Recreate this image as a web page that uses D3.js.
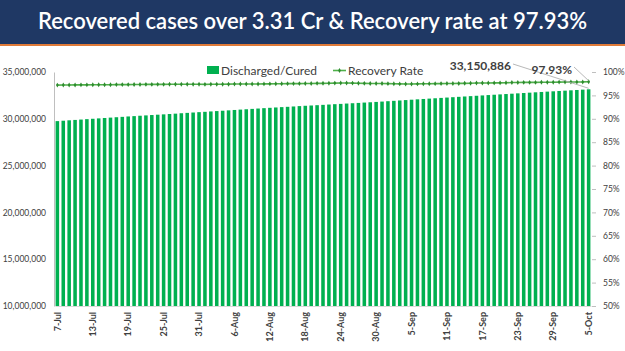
<!DOCTYPE html>
<html lang="en">
<head>
    <meta charset="UTF-8">
    <title>Recovered cases</title>
    <script src="https://d3js.org/d3.v7.min.js"></script>
    <style>
        body {margin: 0; background: #fff;}
        svg {display: block; font-family: Lato, "Open Sans", sans-serif;}
    </style>
</head>
<body>
<script>
    const width = 625;
    const height = 351;

    // discharged / cured (cumulative), 7-Jul .. 5-Oct
    const cured = [
        29752294, 29794855, 29839859, 29879373, 29920271, 29963096, 30003014, 30043899, 30087136, 30126982,
        30168536, 30207631, 30250627, 30286470, 30327700, 30363211, 30403233, 30439155, 30474540, 30512916,
        30549409, 30595033, 30632134, 30671311, 30710612,
        30746284, 30787306, 30824810, 30863185, 30903153, 30943146, 30983083, 31019112, 31058713, 31097134,
        31137104, 31173221, 31211116, 31248090, 31279765, 31317054, 31356655, 31390700, 31421961, 31455389,
        31489249, 31525042, 31562039, 31592775, 31629373, 31664127, 31697000, 31734000, 31767000, 31803000,
        31840000,
        31880412, 31920316, 31959687, 32000135, 32040364, 32080019, 32118294, 32156477, 32194233, 32232121,
        32270396, 32308552, 32346163, 32384021, 32422112, 32460228, 32497107, 32534214, 32571020, 32608105,
        32645009, 32682127, 32719003, 32756200, 32793012, 32830101, 32866047, 32902135, 32937117, 32972109,
        33007112, 33043028, 33078014, 33115098, 33150886
    ];

    // recovery rate (%)
    const rate = [
        97.20, 97.22, 97.22, 97.24, 97.25, 97.25, 97.26, 97.28, 97.28, 97.29,
        97.31, 97.31, 97.31, 97.32, 97.33, 97.35, 97.35, 97.36, 97.36, 97.37,
        97.38, 97.39, 97.39, 97.38, 97.37,
        97.36, 97.37, 97.39, 97.39, 97.40, 97.42, 97.42, 97.43, 97.45, 97.45,
        97.46, 97.47, 97.48, 97.49, 97.51, 97.52, 97.52, 97.53, 97.54, 97.57,
        97.58, 97.60, 97.63, 97.66, 97.65, 97.63, 97.60, 97.57, 97.55, 97.54,
        97.53,
        97.51, 97.48, 97.46, 97.45, 97.45, 97.46, 97.48, 97.49, 97.51, 97.52,
        97.53, 97.54, 97.56, 97.58, 97.61, 97.64, 97.65, 97.66, 97.67, 97.68,
        97.70, 97.75, 97.77, 97.78, 97.78, 97.78, 97.80, 97.81, 97.81, 97.84,
        97.85, 97.86, 97.87, 97.88, 97.93
    ];

    const dates = d3.timeDay.range(new Date(2021, 6, 7), new Date(2021, 9, 6));
    const fmtDate = d3.timeFormat("%-d-%b");

    const tickLabels = ["7-Jul", "13-Jul", "19-Jul", "25-Jul", "31-Jul", "6-Aug", "12-Aug", "18-Aug",
        "24-Aug", "30-Aug", "5-Sep", "11-Sep", "17-Sep", "23-Sep", "29-Sep", "5-Oct"];
    const leftTicks = [10000000, 15000000, 20000000, 25000000, 30000000, 35000000];
    const rightTicks = [0.5, 0.55, 0.6, 0.65, 0.7, 0.75, 0.8, 0.85, 0.9, 0.95, 1];

    const title = "Recovered cases over 3.31 Cr & Recovery rate at 97.93%";
    const curedLabel = "33,150,886";
    const rateLabel = "97.93%";

    const svg = d3.select("body").append("svg")
            .attr("width", width).attr("height", height);

    // title banner
    svg.append("rect").attr("x", 0).attr("y", 0).attr("width", width).attr("height", 44)
            .style("fill", "#1f3864");
    svg.append("rect").attr("x", 0).attr("y", 44).attr("width", width).attr("height", 2)
            .style("fill", "#e07b39");
    svg.append("text").attr("x", width / 2).attr("y", 29)
            .attr("text-anchor", "middle")
            .style("fill", "#fff").style("font-size", "22px").style("font-weight", 600)
            .text(title);

    const plotTop = 72, plotBottom = 306;

    const x = d3.scaleBand()
            .domain(dates.map(fmtDate))
            .range([55, 591])
            .paddingInner(0.4)
            .paddingOuter(0.1);

    const yL = d3.scaleLinear().domain([10000000, 35000000]).range([plotBottom, plotTop]);
    const yR = d3.scaleLinear().domain([0.5, 1]).range([plotBottom, plotTop]);

    // bars
    svg.append("g").selectAll("rect")
            .data(cured)
            .join("rect")
            .attr("x", (d, i) => x(fmtDate(dates[i])))
            .attr("width", x.bandwidth())
            .attr("y", d => yL(d))
            .attr("height", d => plotBottom - yL(d))
            .style("fill", "#00b050");

    // left axis
    const gL = svg.append("g").attr("transform", "translate(54,0)")
            .call(d3.axisLeft(yL).tickValues(leftTicks).tickSize(0).tickPadding(8).tickFormat(d3.format(",")));
    gL.select(".domain").style("stroke", "#bfbfbf");
    gL.selectAll("text").style("font-size", "8.5px").style("fill", "#404040")
            .style("font-family", "Lato, sans-serif");

    // right axis
    const gR = svg.append("g").attr("transform", "translate(596,0)")
            .call(d3.axisRight(yR).tickValues(rightTicks).tickSize(4).tickPadding(3).tickFormat(d3.format(".0%")));
    gR.select(".domain").remove();
    gR.selectAll("line").style("stroke", "#bfbfbf").attr("x1", -4).attr("x2", 0);
    gR.selectAll("text").style("font-size", "8.5px").style("fill", "#404040")
            .style("font-family", "Lato, sans-serif");

    // x axis labels
    const gX = svg.append("g").attr("transform", "translate(0," + plotBottom + ")")
            .call(d3.axisBottom(x).tickValues(tickLabels).tickSize(0).tickPadding(0));
    gX.select(".domain").style("stroke", "#d9d9d9");
    gX.selectAll("text")
            .attr("transform", "rotate(-90)")
            .attr("x", -6).attr("y", 0).attr("dy", "0.35em")
            .style("text-anchor", "end")
            .style("font-size", "9px").style("font-weight", "bold").style("fill", "#404040")
            .style("font-family", "Lato, sans-serif");

    // recovery rate line
    const cx = i => x(fmtDate(dates[i])) + x.bandwidth() / 2;
    const line = d3.line().x((d, i) => cx(i)).y(d => yR(d / 100));
    svg.append("path").datum(rate)
            .attr("d", line)
            .style("fill", "none")
            .style("stroke", "#4fb04a")
            .style("stroke-width", 1.6);
    svg.append("g").selectAll("path")
            .data(rate)
            .join("path")
            .attr("d", d3.symbol().type(d3.symbolDiamond).size(7))
            .attr("transform", (d, i) => "translate(" + cx(i) + "," + yR(d / 100) + ")")
            .style("fill", "#2e8b2e");

    // legend
    const lg = svg.append("g").style("font-size", "12px").style("fill", "#404040");
    lg.append("rect").attr("x", 207).attr("y", 66).attr("width", 12).attr("height", 8)
            .style("fill", "#00b050");
    lg.append("text").attr("x", 221).attr("y", 75).text("Discharged/Cured");
    lg.append("line").attr("x1", 333).attr("x2", 346).attr("y1", 70.5).attr("y2", 70.5)
            .style("stroke", "#4fb04a").style("stroke-width", 1.6);
    lg.append("path").attr("d", d3.symbol().type(d3.symbolDiamond).size(7))
            .attr("transform", "translate(339.5,70.5)").style("fill", "#2e8b2e");
    lg.append("text").attr("x", 348).attr("y", 75).text("Recovery Rate");

    // data labels with leader lines
    const last = cured.length - 1;
    svg.append("text").attr("x", 511).attr("y", 70).attr("text-anchor", "end")
            .style("font-size", "12px").style("font-weight", "bold").style("fill", "#404040")
            .text(curedLabel);
    svg.append("line").attr("x1", 513).attr("y1", 64).attr("x2", cx(last)).attr("y2", yL(cured[last]) - 1)
            .style("stroke", "#a6a6a6").style("stroke-width", 0.8);
    svg.append("text").attr("x", 572).attr("y", 74).attr("text-anchor", "end")
            .style("font-size", "12px").style("font-weight", "bold").style("fill", "#404040")
            .text(rateLabel);
    svg.append("line").attr("x1", 574).attr("y1", 67).attr("x2", cx(last)).attr("y2", yR(rate[last] / 100) - 1)
            .style("stroke", "#a6a6a6").style("stroke-width", 0.8);
</script>
</body>
</html>
